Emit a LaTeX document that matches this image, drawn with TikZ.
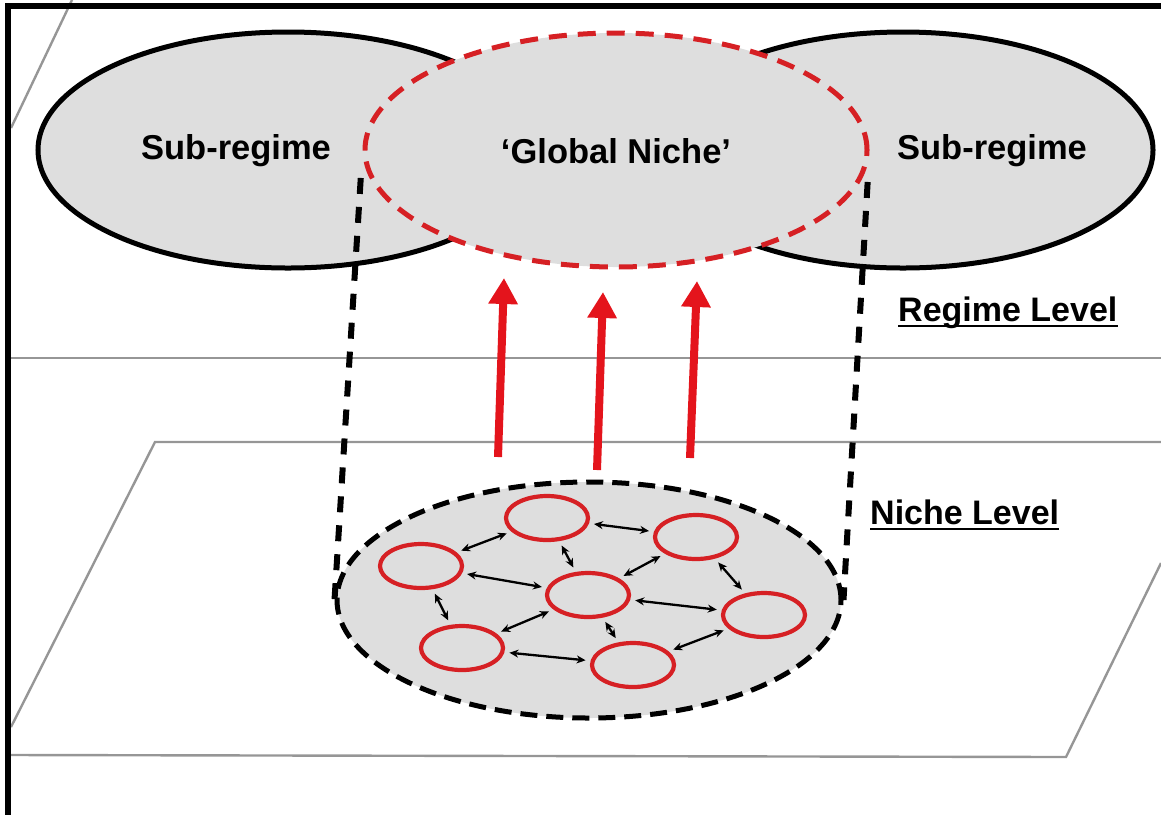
\documentclass[tikz,border=0pt]{standalone}
\usepackage{fontspec}
\setmainfont{Liberation Sans}
\usetikzlibrary{shapes.geometric,arrows.meta}
\definecolor{arrred}{RGB}{228,20,28}
\definecolor{ellred}{RGB}{214,32,36}
\definecolor{fillgray}{RGB}{222,222,222}
\definecolor{planegray}{RGB}{150,150,150}
\begin{document}
\begin{tikzpicture}[x=1pt,y=-1pt,
  plane/.style={draw=planegray,line width=2.4pt},
  subreg/.style={ellipse,draw=black,line width=5pt,fill=fillgray,minimum width=500pt,minimum height=236pt,inner sep=0pt},
  globalniche/.style={ellipse,draw=ellred,line width=5pt,dash pattern=on 18pt off 11pt,fill=fillgray,minimum width=502pt,minimum height=234pt,inner sep=0pt},
  nicheell/.style={ellipse,draw=black,line width=5pt,dash pattern=on 17pt off 9pt,fill=fillgray,minimum width=504pt,minimum height=236pt,inner sep=0pt},
  conedash/.style={draw=black,line width=6pt,dash pattern=on 16pt off 13pt},
  upar/.style={draw=arrred,line width=8pt,-{Triangle[length=26pt,width=28pt]}},
  smallniche/.style={ellipse,draw=ellred,line width=4.2pt,minimum width=82pt,minimum height=44pt,inner sep=0pt},
  link/.style={draw=black,line width=2.3pt,{Stealth[length=9pt,width=8pt]}-{Stealth[length=9pt,width=8pt]},shorten <=5pt,shorten >=5pt},
  bigtext/.style={font=\fontsize{34.5}{40}\selectfont\bfseries,inner sep=0pt},
  levtext/.style={font=\fontsize{34}{40}\selectfont\bfseries,inner sep=0pt,anchor=base west}
]
\useasboundingbox (0,0) rectangle (1161,815);
% planes
\draw[plane] (72,0) -- (11,128);
\draw[plane] (11,358) -- (1161,358);
\draw[plane] (1161,442) -- (155,442) -- (11,727);
\draw[plane] (11,755) -- (1066,757) -- (1161,563);
% sub-regimes
\node[subreg] (sl) at (288,150) {};
\node[subreg] (sr) at (903,150) {};
% global niche & niche level
\node[nicheell] (niche) at (589,600) {};
\node[globalniche] (gn) at (616,150) {};
\draw[conedash,shorten <=28pt] (gn.west) -- (niche.west);
\draw[conedash,shorten <=32pt] (gn.east) -- (niche.east);
% texts
\node[bigtext] (tsl) at (236,151) {Sub-regime};
\node[bigtext] (tgn) at (616,151) {‘Global Niche’};
\node[bigtext] (tsr) at (992,151) {Sub-regime};
\node[levtext] (rl) at (898,321) {Regime Level};
\draw[line width=2.8pt] ([yshift=-5pt]rl.base west) -- ([yshift=-5pt]rl.base east);
\node[levtext] (nl) at (870,524) {Niche Level};
\draw[line width=2.8pt] ([yshift=-5pt]nl.base west) -- ([yshift=-5pt]nl.base east);
% red arrows
\coordinate (a1s) at (498,457); \coordinate (a1e) at (504,278);
\coordinate (a2s) at (597,470); \coordinate (a2e) at (603,292);
\coordinate (a3s) at (690,458); \coordinate (a3e) at (697,281);
\draw[upar] (a1s) -- (a1e);
\draw[upar] (a2s) -- (a2e);
\draw[upar] (a3s) -- (a3e);
% small niches
\node[smallniche] (n1) at (547,518) {};
\node[smallniche] (n2) at (696,537) {};
\node[smallniche] (n3) at (421,566) {};
\node[smallniche] (n4) at (588,595) {};
\node[smallniche] (n5) at (764,615) {};
\node[smallniche] (n6) at (462,648) {};
\node[smallniche] (n7) at (633,665) {};
\draw[link] (n1) -- (n3);
\draw[link] (n1) -- (n2);
\draw[link] (n1) -- (n4);
\draw[link] (n2) -- (n4);
\draw[link] (n2) -- (n5);
\draw[link] (n3) -- (n4);
\draw[link] (n3) -- (n6);
\draw[link] (n4) -- (n6);
\draw[link] (n4) -- (n5);
\draw[link] (n4) -- (n7);
\draw[link] (n6) -- (n7);
\draw[link] (n5) -- (n7);
% frame
\fill[black] (5,3) rectangle (1161,9.3);
\fill[black] (5,3) rectangle (11,815);
\end{tikzpicture}
\end{document}
